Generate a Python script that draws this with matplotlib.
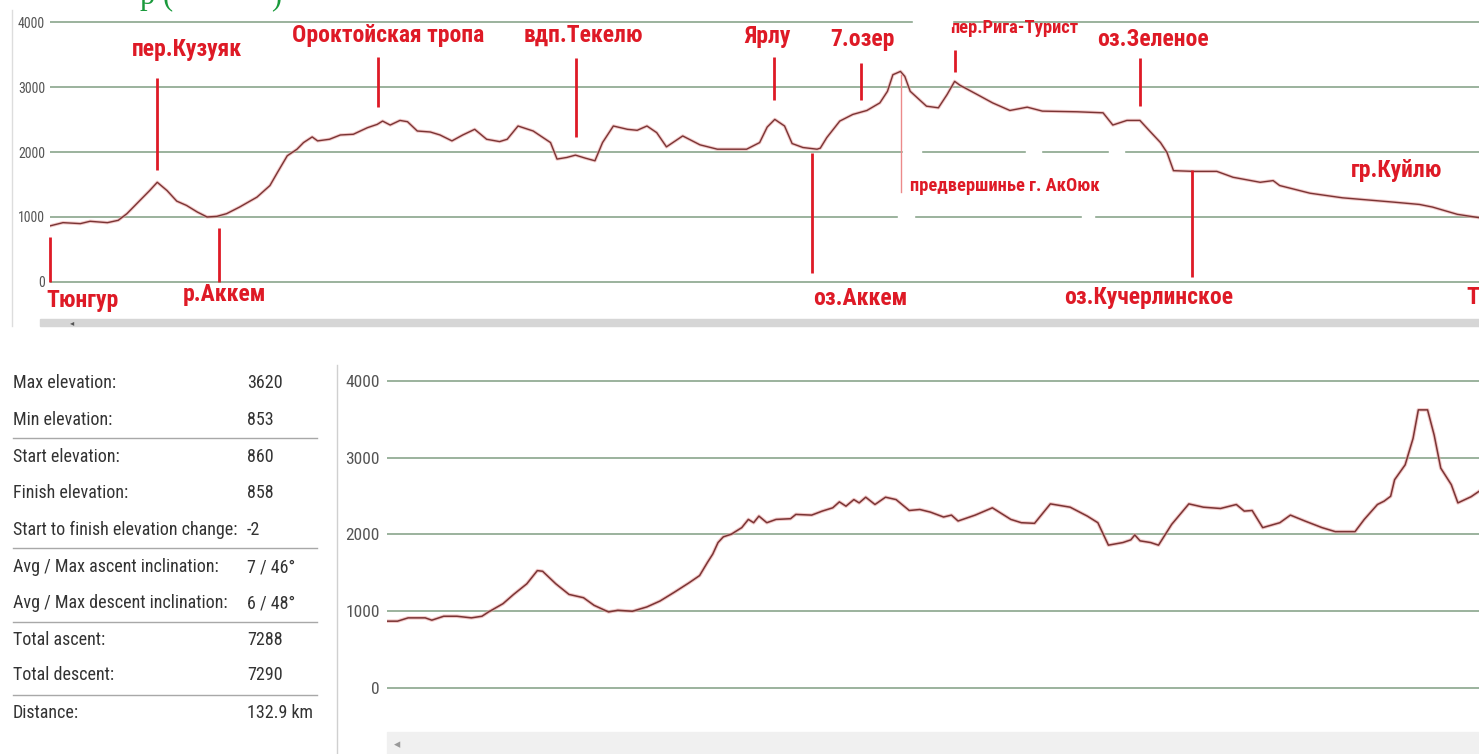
import matplotlib.pyplot as plt
from matplotlib.lines import Line2D
from matplotlib.patches import Rectangle

NARROW = ['Liberation Sans Narrow', 'Roboto Condensed', 'IBM Plex Sans Condensed',
          'Liberation Sans', 'DejaVu Sans']
NARROW_BOLD = ['Liberation Sans Narrow', 'Roboto Condensed', 'Open Sans Condensed',
               'IBM Plex Sans Condensed', 'Liberation Sans', 'DejaVu Sans']
plt.rcParams['font.family'] = NARROW

# обзорный профиль маршрута (верхний график), км / м
top_km = [0, 1.2, 2.8, 3.7, 5.3, 6.3, 7.1, 8.3, 9.2, 9.9, 10.8, 11.7, 12.6, 13.6, 14.5,
          15.4, 16.3, 17.5, 19.1, 20.3, 21.0, 21.9, 22.8, 23.4, 24.2, 24.7, 25.8, 26.8,
          28.0, 29.3, 30.2, 30.7, 31.4, 32.3, 33.0, 33.9, 35.1, 36.0, 37.1, 38.1, 39.2,
          40.3, 41.5, 42.2, 43.2, 44.6, 46.2, 46.8, 47.7, 48.5, 49.4, 50.3, 51.0, 52.0,
          53.3, 54.2, 55.1, 56.0, 56.9, 58.4, 60.0, 61.6, 64.3, 65.5, 66.2, 66.9, 67.8,
          68.5, 69.5, 70.8, 71.1, 71.7, 72.9, 74.1, 75.4, 76.6, 77.3, 77.8, 78.5, 78.9,
          79.4, 80.9, 82.0, 82.8, 83.5, 84.0, 85.6, 87.0, 88.6, 90.2, 91.6, 94.8, 97.2,
          98.1, 99.4, 100.6, 101.5, 102.5, 103.1, 103.7, 105.5, 107.7, 109.2, 111.7,
          112.9, 113.5, 116.3, 119.3, 124.0, 126.4, 127.6, 129.9, 131.9, 132.9]
top_elev = [863, 913, 898, 934, 913, 949, 1051, 1255, 1407, 1534, 1407, 1244, 1178, 1076, 1000,
            1010, 1051, 1153, 1305, 1484, 1687, 1942, 2043, 2145, 2232, 2171, 2196, 2262,
            2273, 2374, 2425, 2476, 2415, 2486, 2466, 2323, 2308, 2262, 2171, 2262, 2349,
            2196, 2160, 2196, 2400, 2323, 2145, 1891, 1916, 1952, 1906, 1865, 2145, 2400,
            2349, 2334, 2400, 2298, 2079, 2247, 2110, 2043, 2043, 2145, 2384, 2502, 2400,
            2130, 2069, 2043, 2059, 2222, 2476, 2578, 2639, 2756, 2934, 3189, 3240, 3163,
            2934, 2705, 2680, 2883, 3087, 3026, 2883, 2756, 2639, 2690, 2629, 2619, 2603,
            2415, 2486, 2486, 2323, 2145, 1993, 1713, 1702, 1702, 1611, 1534,
            1560, 1484, 1366, 1295, 1229, 1193, 1153, 1041, 990, 960]

# детальный участок (нижний график)
bot_km = [0, 0.8, 1.6, 2.9, 3.4, 4.3, 5.3, 6.4, 7.2, 7.7, 8.8, 9.6, 10.6, 11.4, 11.8, 12.8,
          13.8, 14.9, 15.7, 16.8, 17.5, 18.6, 19.7, 20.7, 21.8, 22.9, 23.7, 24.3, 24.7,
          25.1, 25.5, 26.1, 26.9, 27.4, 27.8, 28.2, 28.8, 29.5, 30.6, 31.0, 32.2, 33.0,
          33.8, 34.3, 34.8, 35.4, 35.8, 36.3, 37.0, 37.8, 38.6, 39.6, 40.4, 41.2, 42.2,
          42.8, 43.3, 44.6, 45.9, 47.3, 48.1, 49.1, 50.3, 51.8, 53.1, 53.9, 54.7, 55.8,
          56.4, 56.7, 57.1, 57.9, 58.5, 59.5, 60.8, 61.9, 63.2, 64.4, 65.0, 65.6, 66.4,
          67.7, 68.5, 69.6, 70.9, 71.9, 73.4, 74.1, 75.1, 75.6, 76.1, 76.4, 77.2, 77.8,
          78.2, 78.9, 79.4, 79.9, 80.7, 81.2, 82.2, 82.8, 83.5]
bot_elev = [871, 871, 914, 914, 884, 935, 935, 914, 935, 991, 1099, 1219, 1357, 1529, 1520, 1357,
            1219, 1176, 1077, 991, 1013, 1000, 1056, 1133, 1249, 1370, 1464, 1636, 1744,
            1894, 1968, 2002, 2088, 2195, 2152, 2238, 2152, 2195, 2204, 2260, 2251, 2303,
            2346, 2423, 2367, 2453, 2410, 2484, 2389, 2484, 2453, 2311, 2324, 2290, 2226,
            2251, 2174, 2251, 2346, 2195, 2152, 2144, 2397, 2354, 2238, 2152, 1860, 1894,
            1929, 1993, 1916, 1894, 1860, 2131, 2397, 2354, 2337, 2389, 2303, 2311, 2088,
            2152, 2251, 2174, 2088, 2036, 2036, 2195, 2389, 2432, 2496, 2711, 2905, 3249,
            3620, 3620, 3292, 2862, 2647, 2410, 2490, 2560, 2650]

y_ticks = [0, 1000, 2000, 3000, 4000]

stat_names = ['Max elevation:', 'Min elevation:', 'Start elevation:', 'Finish elevation:',
              'Start to finish elevation change:', 'Avg / Max ascent inclination:',
              'Avg / Max descent inclination:', 'Total ascent:', 'Total descent:', 'Distance:']
stat_values = ['3620', '853', '860', '858', '-2', '7 / 46°', '6 / 48°', '7288', '7290', '132.9 km']

# подписи: текст, x линии (км), линия от/до (м), x текста (км), y текста (м), выравнивание, размер
marks = [
    ('Тюнгур', 0.0, 0, 692, -0.3, -280, 'left', 17),
    ('пер.Кузуяк', 9.9, 1723, 3138, 12.6, 3570, 'center', 17),
    ('р.Аккем', 15.6, 0, 831, 16.1, -200, 'center', 17),
    ('Ороктойская тропа', 30.3, 2692, 3462, 31.2, 3790, 'center', 17),
    ('вдп.Текелю', 48.55, 2231, 3446, 49.2, 3790, 'center', 17),
    ('Ярлу', 66.8, 2800, 3462, 66.2, 3770, 'center', 17),
    ('7.озер', 74.9, 2800, 3369, 75.0, 3725, 'center', 17),
    ('оз.Аккем', 70.3, 138, 1985, 74.8, -250, 'center', 17),
    ('оз.Зеленое', 100.6, 2708, 3446, 101.8, 3725, 'center', 17),
    ('оз.Кучерлинское', 105.4, 77, 1723, 101.4, -235, 'center', 17),
    ('гр.Куйлю', None, 0, 0, 124.3, 1723, 'center', 17),
    ('Тюнгур', None, 0, 0, 130.7, -235, 'left', 17),
    ('пер.Рига-Турист', 83.5, 3231, 3569, 83.1, 3910, 'left', 13.3),
    ('предвершинье г. АкОюк', None, 0, 0, 79.4, 1480, 'left', 13.3),
]

W, H = 1479, 754
RED = '#de1a26'


def px_box(l, t, r, b):
    return [l / W, 1 - b / H, (r - l) / W, (b - t) / H]


def style(ax, size, pad):
    ax.set_yticks(y_ticks)
    ax.set_xticks([])
    ax.grid(axis='y', color='#93ad95', lw=1.3)
    ax.set_axisbelow(True)
    for s in ax.spines.values():
        s.set_visible(False)
    ax.tick_params(axis='y', length=0, pad=pad, labelsize=size, labelcolor='#555555')


fig = plt.figure(figsize=(W / 100, H / 100), dpi=100)

# верхний график
ax1 = fig.add_axes(px_box(50, 10, 1479, 320))
ax1.plot(top_km, top_elev, color='#eaa5a5', lw=2.4, alpha=0.6)
ax1.plot(top_km, top_elev, color='#7a3434', lw=1.0)
ax1.set_xlim(0, 131.9)
ax1.set_ylim(-585, 4185)
style(ax1, 10, 3.5)

# белые пятна от вставленных подписей (разрывы сетки на исходнике)
for l, t, r, b in [(913, 18, 952, 26), (903, 147, 921, 155), (1026, 147, 1041, 155),
                   (1109, 147, 1124, 155), (898, 213, 914, 221), (1082, 213, 1094, 221)]:
    fig.add_artist(Rectangle((l / W, 1 - b / H), (r - l) / W, (b - t) / H,
                             color='white', transform=fig.transFigure, zorder=2))

for name, lx, y0, y1, tx, ty, ha, fs in marks:
    if lx is not None:
        ax1.plot([lx, lx], [y0, y1], color=RED, lw=2.0, clip_on=False,
                 solid_capstyle='butt')
    ax1.text(tx, ty, name, color=RED, fontsize=fs, fontweight='bold', ha=ha,
             va='center', clip_on=False, family=NARROW_BOLD)
# тонкая линия к предвершинью
ax1.plot([78.55, 78.55], [1385, 3185], color='#ec8a8a', lw=1.0)

# нижний график
ax2 = fig.add_axes(px_box(387, 365, 1479, 732))
ax2.plot(bot_km, bot_elev, color='#eaa5a5', lw=2.6, alpha=0.6)
ax2.plot(bot_km, bot_elev, color='#7a3434', lw=1.1)
ax2.set_xlim(0, 82.8)
ax2.set_ylim(-571, 4204)
style(ax2, 12.5, 5)

# таблица статистики
rows_y = [383, 420, 457, 493, 530, 567, 603, 640, 675, 713]
for name, val, y in zip(stat_names, stat_values, rows_y):
    fig.text(13 / W, 1 - y / H, name, fontsize=13, color='#333333', va='center')
    fig.text(247 / W, 1 - y / H, val, fontsize=13, color='#333333', va='center')
for y in [438, 548, 622, 695]:
    fig.add_artist(Line2D([13 / W, 317 / W], [1 - y / H] * 2, color='#a8a8a8', lw=1.0))

# рамки и полосы прокрутки
fig.add_artist(Line2D([337 / W] * 2, [0, 1 - 365 / H], color='#d0d0d0', lw=1.0))
fig.add_artist(Line2D([12 / W] * 2, [1 - 326 / H, 1 - 10 / H], color='#dddddd', lw=1.0))
fig.add_artist(Rectangle((40 / W, 1 - 326 / H), (W - 40) / W, 7 / H,
                         color='#d6d6d6', transform=fig.transFigure))
fig.add_artist(Rectangle((387 / W, 0), (W - 387) / W, 22 / H,
                         color='#f0f0f0', transform=fig.transFigure))
fig.text(394 / W, 1 - 745 / H, '◂', fontsize=9, color='#999999', va='center',
         family=['DejaVu Sans'])
fig.text(70 / W, 1 - 323 / H, '◂', fontsize=6, color='#555555', va='center',
         family=['DejaVu Sans'])

# обрезанная зелёная надпись сверху
for ch, x in [('р', 140), ('(', 163), (')', 271)]:
    fig.text(x / W, 1 - 4 / H, ch, fontsize=22, color='#1a9a3c', va='baseline',
             family=['Liberation Serif', 'DejaVu Serif'])

fig.savefig('out.png', dpi=100)
